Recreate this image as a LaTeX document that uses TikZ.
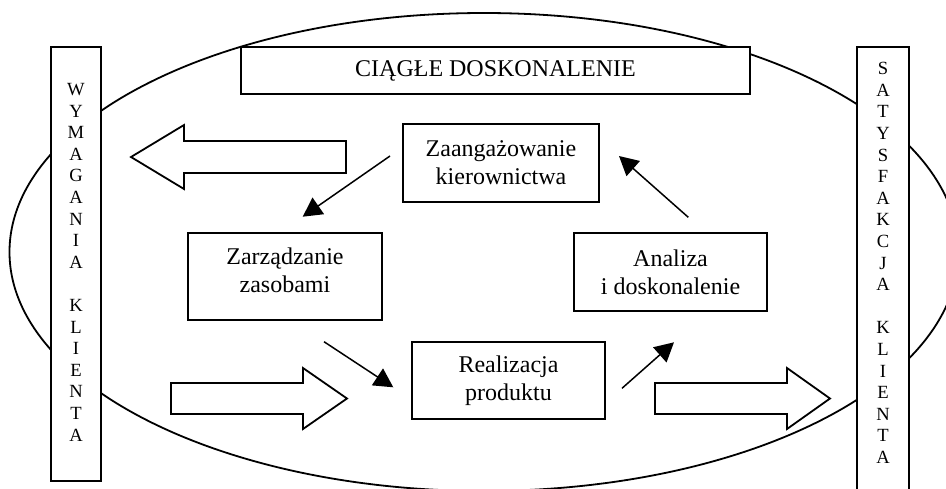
\documentclass[tikz,border=0pt]{standalone}
\usepackage{fontspec}
\setmainfont{Liberation Serif}
\usetikzlibrary{arrows.meta}
\begin{document}
\begin{tikzpicture}[x=1pt,y=-1pt,
  box/.style={draw,line width=1.8pt,fill=white,inner sep=0pt,align=center,font=\fontsize{24}{27.7}\selectfont},
  sidebox/.style={draw,line width=1.8pt,fill=white,inner sep=0pt},
  thinarrow/.style={line width=1.5pt,-{Triangle[length=19pt,width=20pt]}},
  blockarrow/.style={draw,line width=1.8pt,fill=white,line join=miter},
  letters/.style={align=center,inner sep=0pt,font=\fontsize{18.6}{21.6}\selectfont}]
\useasboundingbox (0,0) rectangle (946,488);
\clip (0,0) rectangle (946,488);
% big ellipse
\draw[line width=1.8pt] (484,252) ellipse [x radius=474.5pt, y radius=239pt];
% side boxes
\node[sidebox,minimum width=50pt,minimum height=434pt] (left) at (76,264) {};
\node[sidebox,minimum width=52pt,minimum height=446pt] (right) at (883,270) {};
\node[letters] (wtext) at (76,262.2) {W\\Y\\M\\A\\G\\A\\N\\I\\A\\[21.6pt]K\\L\\I\\E\\N\\T\\A};
\node[letters] (stext) at (883,262.9) {S\\A\\T\\Y\\S\\F\\A\\K\\C\\J\\A\\[21.6pt]K\\L\\I\\E\\N\\T\\A};
% title
\node[box,minimum width=509pt,minimum height=47pt] (title) at (495.5,70.5) {CIĄGŁE DOSKONALENIE};
% process boxes
\node[box,minimum width=196pt,minimum height=78pt] (zaang) at (501,163) {Zaangażowanie\\kierownictwa};
\node[box,minimum width=194pt,minimum height=87pt] (zarz) at (285,276.5) {Zarządzanie\\zasobami\rule[-12.7pt]{0pt}{12.7pt}};
\node[box,minimum width=193pt,minimum height=78pt] (anal) at (670.5,272) {Analiza\\i doskonalenie};
\node[box,minimum width=193pt,minimum height=77pt] (real) at (508.5,380.5) {Realizacja\\produktu};
% block arrows
\draw[blockarrow] (346,141) -- (184,141) -- (184,125) -- (131,157) -- (184,189) -- (184,173) -- (346,173) -- cycle;
\draw[blockarrow] (171,383) -- (303,383) -- (303,368) -- (347,398.5) -- (303,429) -- (303,414) -- (171,414) -- cycle;
\draw[blockarrow] (655,383) -- (787,383) -- (787,368) -- (830,398.5) -- (787,429) -- (787,414) -- (655,414) -- cycle;
% thin arrows
\coordinate (a1s) at (390,156);   \coordinate (a1e) at (302.7,216.7);
\coordinate (a2s) at (324,341.7); \coordinate (a2e) at (393.3,387.3);
\coordinate (a3s) at (622,388.3); \coordinate (a3e) at (674,342.3);
\coordinate (a4s) at (688.3,217.3); \coordinate (a4e) at (619,156);
\draw[thinarrow] (a1s) -- (a1e);
\draw[thinarrow] (a2s) -- (a2e);
\draw[thinarrow] (a3s) -- (a3e);
\draw[thinarrow] (a4s) -- (a4e);
\end{tikzpicture}
\end{document}
